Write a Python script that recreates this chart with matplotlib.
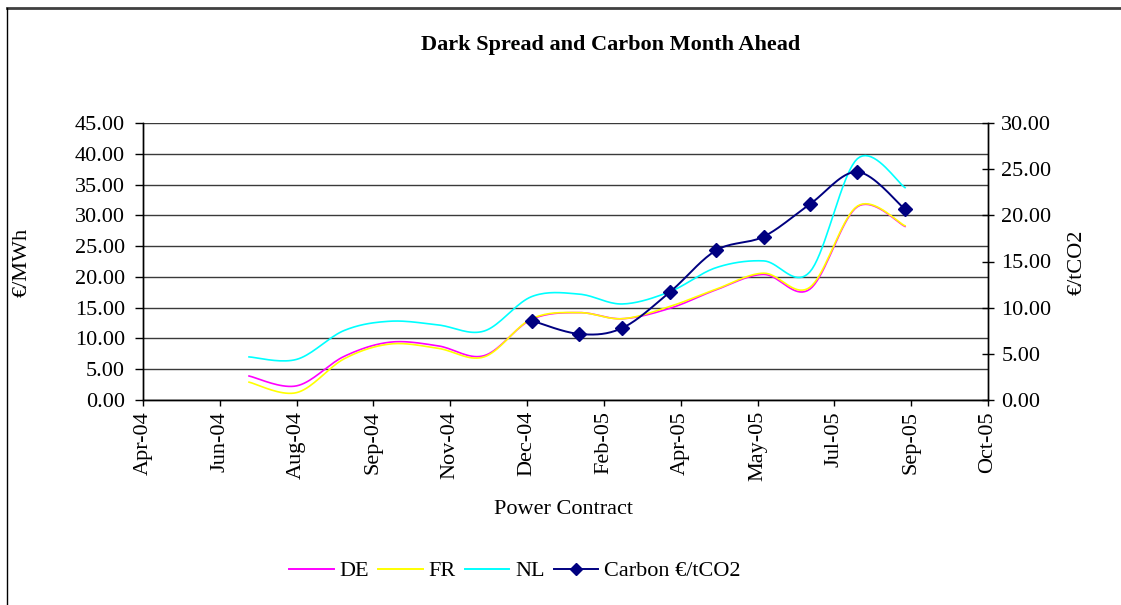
import matplotlib
matplotlib.use('Agg')
import matplotlib.pyplot as plt
import matplotlib.dates as mdates
from matplotlib.lines import Line2D
import numpy as np
import datetime as dt

plt.rcParams['font.family'] = ['Liberation Serif', 'DejaVu Serif']

# monthly power contracts Jul-04 .. Sep-05
months = ['2004-07', '2004-08', '2004-09', '2004-10', '2004-11', '2004-12',
          '2005-01', '2005-02', '2005-03', '2005-04', '2005-05', '2005-06',
          '2005-07', '2005-08', '2005-09']
de = [3.9, 2.3, 7.1, 9.4, 8.8, 7.2, 13.1, 14.2, 13.2, 14.9, 17.9, 20.4, 18.0, 31.4, 28.2]
fr = [2.9, 1.2, 6.7, 9.1, 8.4, 7.0, 13.2, 14.2, 13.2, 15.2, 18.0, 20.6, 18.3, 31.5, 28.3]
nl = [7.0, 6.6, 11.3, 12.8, 12.2, 11.2, 16.8, 17.2, 15.6, 17.6, 21.5, 22.6, 20.8, 39.2, 34.5]

# carbon month ahead (EUR/tCO2), Jan-05 .. Sep-05
carbon_months = months[6:]
carbon = [8.6, 7.15, 7.8, 11.7, 16.2, 17.7, 21.2, 24.7, 20.65]

labels = ['DE', 'FR', 'NL', 'Carbon \u20ac/tCO2']
colors = ['#FF00FF', '#FFFF00', '#00FFFF', '#000080']


def to_num(ms):
    return mdates.date2num([dt.datetime.strptime(m, '%Y-%m') for m in ms])


def smooth(x, y, n=20):
    # catmull-rom, like excel's smoothed line
    x = np.asarray(x, float)
    y = np.asarray(y, float)
    px = np.concatenate([[x[0]], x, [x[-1]]])
    py = np.concatenate([[y[0]], y, [y[-1]]])
    t = np.linspace(0, 1, n)[:, None]
    xs, ys = [], []
    for i in range(1, len(px) - 2):
        for p, out in ((px, xs), (py, ys)):
            p0, p1, p2, p3 = p[i - 1], p[i], p[i + 1], p[i + 2]
            v = 0.5 * (2 * p1 + (-p0 + p2) * t + (2 * p0 - 5 * p1 + 4 * p2 - p3) * t ** 2
                       + (-p0 + 3 * p1 - 3 * p2 + p3) * t ** 3)
            out.append(v.ravel())
    return np.concatenate(xs), np.concatenate(ys)


fig = plt.figure(figsize=(11.21, 6.05), dpi=100)
ax = fig.add_axes([143 / 1121, 1 - 400 / 605, 845 / 1121, 277 / 605])
ax2 = ax.twinx()

xm = to_num(months)
for vals, c in zip([de, fr, nl], colors[:3]):
    sx, sy = smooth(xm, vals)
    ax.plot(sx, sy, color=c, lw=1.2, zorder=3)

xc = to_num(carbon_months)
sx, sy = smooth(xc, carbon)
ax2.plot(sx, sy, color=colors[3], lw=1.4, zorder=4)
ax2.plot(xc, carbon, ls='none', marker='D', ms=7, color=colors[3], zorder=5)

# excel date axis: serial 38100 (23 Apr 2004), major unit 50 days
start = mdates.date2num(dt.datetime(2004, 4, 23))
ticks = start + 50 * np.arange(12)
ax.set_xlim(ticks[0], ticks[-1])
ax.set_xticks(ticks)
ax.xaxis.set_major_formatter(mdates.DateFormatter('%b-%y'))

ax.set_ylim(0, 45)
ax.set_yticks(np.arange(0, 46, 5))
ax.yaxis.set_major_formatter(matplotlib.ticker.FormatStrFormatter('%.2f'))
ax2.set_ylim(0, 30)
ax2.set_yticks(np.arange(0, 31, 5))
ax2.yaxis.set_major_formatter(matplotlib.ticker.FormatStrFormatter('%.2f'))

ax.grid(axis='y', color='#3a3a3a', lw=1.0)
ax.set_axisbelow(True)
for a in (ax, ax2):
    a.spines['top'].set_visible(False)
    for s in ('left', 'right', 'bottom'):
        a.spines[s].set_color('black')
        a.spines[s].set_linewidth(1.0)

fs = 16
ax.tick_params(axis='y', direction='out', length=6, width=1, labelsize=fs, pad=7)
ax.tick_params(axis='x', direction='out', length=4, width=1, labelsize=fs, pad=4,
               labelrotation=90)
ax2.tick_params(axis='y', direction='inout', length=9, width=1, labelsize=fs, pad=5)

fig.text(611 / 1121, 1 - 45 / 605, 'Dark Spread and Carbon Month Ahead',
         ha='center', va='center', fontsize=16, fontweight='bold')
fig.text(564 / 1121, 1 - 509 / 605, 'Power Contract', ha='center', va='center', fontsize=fs)
fig.text(22 / 1121, 1 - 262 / 605, '\u20ac/MWh', ha='center', va='center',
         rotation=90, fontsize=fs)
fig.text(1077 / 1121, 1 - 262 / 605, '\u20ac/tCO2', ha='center', va='center',
         rotation=90, fontsize=fs)

handles = [Line2D([], [], color=c, lw=1.4) for c in colors[:3]]
handles.append(Line2D([], [], color=colors[3], lw=1.4, marker='D', ms=6))
fig.legend(handles, labels, loc='center', bbox_to_anchor=(515 / 1121, 1 - 571 / 605),
           ncol=4, frameon=False, fontsize=fs, handlelength=2.0, handletextpad=0.27,
           columnspacing=0.4)

# chart area border (top and left edges visible)
fig.add_artist(Line2D([7 / 1121, 1], [1 - 8 / 605, 1 - 8 / 605], color='#404040', lw=2,
                      transform=fig.transFigure))
fig.add_artist(Line2D([7 / 1121, 7 / 1121], [0, 1 - 8 / 605], color='black', lw=1,
                      transform=fig.transFigure))

fig.savefig('out.png', dpi=100)
